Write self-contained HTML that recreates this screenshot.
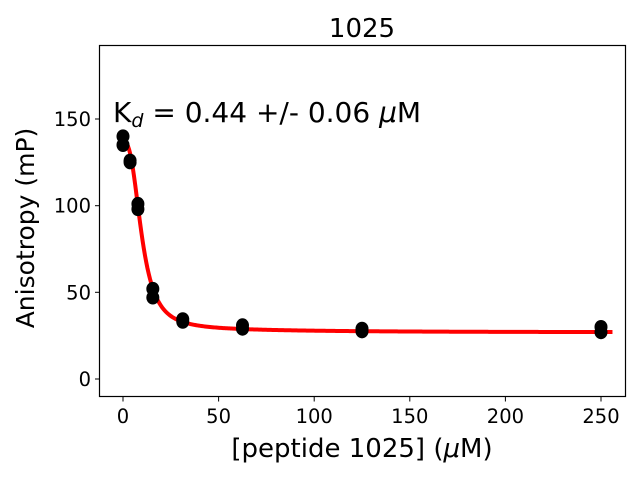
<!DOCTYPE html>
<html><head><meta charset="utf-8"><style>body{margin:0;background:#fff}svg{display:block}text{font-family:"DejaVu Sans","Liberation Sans",sans-serif;fill:#000}</style></head>
<body>
<svg id="s" width="640" height="480" xmlns="http://www.w3.org/2000/svg">
<rect x="0" y="0" width="640" height="480" fill="#fff"/>
<text x="362" y="37" font-size="26" text-anchor="middle">1025</text>
<g id="plot"></g>
<rect x="99.5" y="45.5" width="526" height="351" fill="none" stroke="#000" stroke-width="1.2"/>
<g font-size="19.5" text-anchor="middle">
<line x1="123" y1="397" x2="123" y2="401.5" stroke="#000"/><text x="123" y="423">0</text>
<line x1="218.6" y1="397" x2="218.6" y2="401.5" stroke="#000"/><text x="218.6" y="423">50</text>
<line x1="314.2" y1="397" x2="314.2" y2="401.5" stroke="#000"/><text x="314.2" y="423">100</text>
<line x1="409.8" y1="397" x2="409.8" y2="401.5" stroke="#000"/><text x="409.8" y="423">150</text>
<line x1="505.4" y1="397" x2="505.4" y2="401.5" stroke="#000"/><text x="505.4" y="423">200</text>
<line x1="601" y1="397" x2="601" y2="401.5" stroke="#000"/><text x="601" y="423">250</text>
</g>
<g font-size="19.5" text-anchor="end">
<line x1="95" y1="379" x2="99.5" y2="379" stroke="#000"/><text x="91" y="386">0</text>
<line x1="95" y1="292.3" x2="99.5" y2="292.3" stroke="#000"/><text x="91" y="299.3">50</text>
<line x1="95" y1="205.7" x2="99.5" y2="205.7" stroke="#000"/><text x="91" y="212.7">100</text>
<line x1="95" y1="119" x2="99.5" y2="119" stroke="#000"/><text x="91" y="126">150</text>
</g>
<text x="362" y="457" font-size="26" text-anchor="middle">[peptide 1025] (<tspan font-style="italic">μ</tspan>M)</text>
<text transform="translate(34,228) rotate(-90)" font-size="25" text-anchor="middle">Anisotropy (mP)</text>
<text x="113" y="122" font-size="28">K<tspan font-size="19" font-style="italic" dy="5">d</tspan><tspan dy="-5"> = 0.44 +/- 0.06 </tspan><tspan font-style="italic">μ</tspan>M</text>
</svg>
<script>
var X=function(x){return 123+x*1.912},Y=function(y){return 379-y*1.7333};
var f=function(x){return 27+107/(1+Math.pow(x/9.8,2.8))+3*Math.exp(-x/70);};
var d="";for(var i=0;i<=400;i++){var x=i*256/400;d+=(i?"L":"M")+X(x).toFixed(2)+","+Y(f(x)).toFixed(2);}
var g=document.getElementById("plot"),ns="http://www.w3.org/2000/svg";
var p=document.createElementNS(ns,"path");p.setAttribute("d",d);p.setAttribute("fill","none");p.setAttribute("stroke","#ff0000");p.setAttribute("stroke-width","4");g.appendChild(p);
var pts=[[0,140],[0,135],[3.7,126],[3.7,125],[7.8,101],[7.8,98],[15.6,52],[15.6,47],[31.25,34.5],[31.25,33],[62.5,31],[62.5,29],[125,29],[125,27.5],[250,30],[250,27]];
pts.forEach(function(q){var c=document.createElementNS(ns,"ellipse");c.setAttribute("cx",X(q[0]));c.setAttribute("cy",Y(q[1]));c.setAttribute("rx",6.5);c.setAttribute("ry",7);c.setAttribute("fill","#000");g.appendChild(c);});
</script>
</body></html>
